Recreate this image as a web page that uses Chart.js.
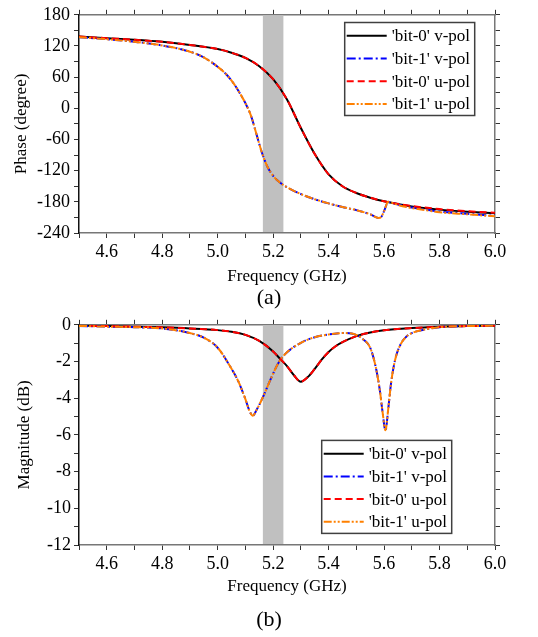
<!DOCTYPE html>
<html>
<head>
<meta charset="utf-8">
<script src="https://cdn.jsdelivr.net/npm/chart.js@4.4.0/dist/chart.umd.min.js"></script>
<style>
body { margin: 0; background: #fff; }
.box { position: relative; width: 538px; }
</style>
</head>
<body>
<div class="box" style="height:311px"><canvas id="phaseChart"></canvas></div>
<div class="box" style="height:326px"><canvas id="magChart"></canvas></div>
<script>
// series names and band
const seriesNames = ["'bit-0' v-pol", "'bit-1' v-pol", "'bit-0' u-pol", "'bit-1' u-pol"];
const bandGHz = [5.163, 5.237];

// (a) phase, degrees
const freqPhase0 = [4.5,4.6,4.7,4.8,4.9,5.0,5.05,5.1,5.15,5.2,5.25,5.3,5.35,5.4,5.45,5.5,5.55,5.6,5.7,5.8,5.9,6.0];
const phase0v = [138,135,132,128,122,114,107,97,81,56,17,-38,-88,-127,-150,-163,-172,-179,-189,-195,-199,-202];
const phase0u = [138,135,132,128,122,114,107,97,81,56,17,-38,-88,-127,-150,-163,-172,-179,-188,-194,-198,-201];

const freqPhase1 = [4.5,4.6,4.7,4.8,4.9,4.95,5.0,5.03,5.06,5.08,5.1,5.12,5.14,5.16,5.18,5.2,5.22,5.25,5.3,5.35,5.4,5.45,5.5,5.55,5.58,5.59,5.6,5.615,5.63,5.65,5.7,5.75,5.8,5.9,6.0];
const phase1v = [137,133,128,121,109,98,80,66,46,29,10,-14,-50,-86,-113,-130,-141,-152,-165,-175,-183,-190,-196,-204,-211,-209,-198,-180,-182,-185,-191,-195,-199,-203,-207];
const phase1u = [137,133,128,121,109,98,80,66,46,29,10,-14,-50,-86,-113,-130,-141,-152,-165,-175,-183,-190,-196,-204,-211,-209,-198,-180,-182,-186,-192,-196,-200,-204,-208];

// (b) magnitude, dB
const freqMag0 = [4.5,4.6,4.7,4.8,4.9,5.0,5.05,5.1,5.15,5.2,5.225,5.25,5.275,5.3,5.325,5.35,5.375,5.4,5.425,5.45,5.5,5.55,5.6,5.7,5.8,5.9,6.0];
const mag0v = [-0.05,-0.07,-0.1,-0.14,-0.2,-0.29,-0.38,-0.55,-0.88,-1.45,-1.85,-2.25,-2.75,-3.1,-2.85,-2.4,-1.9,-1.48,-1.17,-0.95,-0.62,-0.42,-0.3,-0.18,-0.11,-0.07,-0.05];
const mag0u = [-0.05,-0.07,-0.1,-0.14,-0.2,-0.29,-0.38,-0.55,-0.88,-1.45,-1.85,-2.25,-2.75,-3.1,-2.85,-2.4,-1.9,-1.48,-1.17,-0.95,-0.62,-0.42,-0.3,-0.18,-0.11,-0.07,-0.05];

const freqMag1 = [4.5,4.6,4.7,4.8,4.9,4.95,5.0,5.05,5.075,5.1,5.115,5.127,5.14,5.163,5.19,5.22,5.25,5.3,5.35,5.4,5.45,5.5,5.525,5.55,5.57,5.585,5.595,5.605,5.615,5.625,5.64,5.66,5.68,5.7,5.75,5.8,5.9,6.0];
const mag1v = [-0.06,-0.1,-0.13,-0.2,-0.45,-0.7,-1.25,-2.4,-3.1,-4.05,-4.7,-4.95,-4.65,-3.95,-3.0,-2.05,-1.5,-0.98,-0.68,-0.53,-0.45,-0.55,-0.8,-1.25,-2.3,-3.6,-4.8,-5.75,-4.6,-3.2,-1.9,-1.05,-0.65,-0.45,-0.25,-0.13,-0.07,-0.05];
const mag1u = [-0.06,-0.1,-0.13,-0.2,-0.45,-0.7,-1.25,-2.4,-3.1,-4.05,-4.7,-4.95,-4.65,-3.95,-3.0,-2.05,-1.5,-0.98,-0.68,-0.53,-0.45,-0.55,-0.8,-1.25,-2.3,-3.6,-4.8,-5.75,-4.6,-3.2,-1.9,-1.05,-0.65,-0.45,-0.25,-0.13,-0.07,-0.05];

const FONT = "'Liberation Serif', 'Times New Roman', serif";
const lineColors = ['#000000', '#0000ff', '#ff0000', '#ff8000'];
const lineDashes = [[], [9, 3, 2, 3], [7, 4], [8, 2, 2, 2, 2, 2]];
const drawOrder = [4, 3, 2, 1];

function pts(xs, ys) {
    return xs.map((x, i) => ({ x: x, y: ys[i] }));
}

function makeDatasets(series) {
    return series.map((s, i) => ({
        label: seriesNames[i],
        data: pts(s[0], s[1]),
        borderColor: lineColors[i],
        borderDash: lineDashes[i],
        borderWidth: 2,
        pointRadius: 0,
        fill: false,
        cubicInterpolationMode: 'monotone',
        order: drawOrder[i]
    }));
}

// grey band behind the curves
const bandPlugin = {
    id: 'band',
    beforeDatasetsDraw(chart) {
        const ctx = chart.ctx, a = chart.chartArea, xs = chart.scales.x;
        const x1 = xs.getPixelForValue(bandGHz[0]);
        const x2 = xs.getPixelForValue(bandGHz[1]);
        ctx.save();
        ctx.fillStyle = '#c0c0c0';
        ctx.fillRect(x1, a.top + 1, x2 - x1, a.bottom - a.top - 2);
        ctx.restore();
    }
};

// boxed legend inside the plot
const boxLegend = {
    id: 'boxLegend',
    afterDraw(chart, args, opts) {
        const ctx = chart.ctx, a = chart.chartArea;
        const left = a.left + opts.dx, top = a.top + opts.dy;
        const w = 130, h = 93, rowH = 22.7;
        ctx.save();
        ctx.fillStyle = '#fff';
        ctx.fillRect(left, top, w, h);
        ctx.strokeStyle = '#404040';
        ctx.lineWidth = 1.5;
        ctx.strokeRect(left, top, w, h);
        chart.data.datasets.forEach((ds, i) => {
            const y = top + 13.3 + i * rowH;
            ctx.beginPath();
            ctx.setLineDash(ds.borderDash);
            ctx.strokeStyle = ds.borderColor;
            ctx.lineWidth = 2;
            ctx.moveTo(left + 2, y);
            ctx.lineTo(left + 42, y);
            ctx.stroke();
            ctx.setLineDash([]);
            ctx.fillStyle = '#000';
            ctx.font = '17px ' + FONT;
            ctx.textBaseline = 'middle';
            ctx.fillText(ds.label, left + 47, y + 1);
        });
        ctx.restore();
    }
};

function makeScales(c) {
    return {
        x: {
            type: 'linear', position: 'bottom', min: 4.5, max: 6.0,
            ticks: { stepSize: 0.1, autoSkip: false, maxRotation: 0, padding: 3, color: '#000',
                font: { family: FONT, size: 18 },
                callback: v => Math.round(v * 10) % 2 === 0 ? v.toFixed(1) : '' },
            grid: { drawOnChartArea: false, tickLength: 5, tickColor: '#333' },
            border: { color: '#777', width: 1.5 },
            title: { display: true, text: 'Frequency (GHz)', color: '#000',
                font: { family: FONT, size: 17, lineHeight: 1 }, padding: { top: 0, bottom: c.xTitlePad } },
            afterFit: s => { s.height = c.xHeight; }
        },
        xTop: {
            type: 'linear', position: 'top', min: 4.5, max: 6.0,
            ticks: { stepSize: 0.1, display: false },
            grid: { drawOnChartArea: false, tickLength: 5, tickColor: '#333' },
            border: { color: '#777', width: 1.5 },
            afterFit: s => { s.height = c.top; }
        },
        y: {
            type: 'linear', position: 'left', min: c.yMin, max: c.yMax,
            ticks: { stepSize: c.yStep, autoSkip: false, padding: c.yPad, color: '#000',
                font: { family: FONT, size: 18 },
                callback: v => v % c.yLabel === 0 ? String(v) : '' },
            grid: { drawOnChartArea: false, tickLength: 5, tickColor: '#333' },
            border: { color: '#111', width: 1.5 },
            title: { display: true, text: c.yTitle, color: '#000',
                font: { family: FONT, size: 17, lineHeight: 1 }, padding: { top: c.yTitlePad, bottom: 0 } },
            afterFit: s => { s.width = 79; }
        },
        yRight: {
            type: 'linear', position: 'right', min: c.yMin, max: c.yMax,
            ticks: { stepSize: c.yStep, display: false },
            grid: { drawOnChartArea: false, tickLength: 5, tickColor: '#333' },
            border: { color: '#777', width: 1.5 },
            afterFit: s => { s.width = 43; }
        }
    };
}

function makeChart(id, series, c) {
    return new Chart(document.getElementById(id), {
        type: 'line',
        data: { datasets: makeDatasets(series) },
        options: {
            responsive: true,
            maintainAspectRatio: false,
            animation: false,
            layout: { padding: 0 },
            scales: makeScales(c),
            plugins: {
                legend: { display: false },
                tooltip: { enabled: false },
                title: { display: true, text: c.caption, position: 'bottom', color: '#000',
                    font: { family: FONT, size: 22, weight: 'normal' },
                    padding: { top: 0, bottom: c.capPad } },
                boxLegend: { dx: c.legDx, dy: c.legDy }
            }
        },
        plugins: [bandPlugin, boxLegend]
    });
}

makeChart('phaseChart',
    [[freqPhase0, phase0v], [freqPhase1, phase1v], [freqPhase0, phase0u], [freqPhase1, phase1u]],
    { yMin: -240, yMax: 180, yStep: 30, yLabel: 60, yTitle: 'Phase (degree)', yPad: 4, yTitlePad: 13,
      top: 10, xHeight: 51.6, xTitlePad: 0, caption: '(a)', capPad: 0, legDx: 265.7, legDy: 7.7 });

makeChart('magChart',
    [[freqMag0, mag0v], [freqMag1, mag1v], [freqMag0, mag0u], [freqMag1, mag1u]],
    { yMin: -12, yMax: 0, yStep: 1, yLabel: 2, yTitle: 'Magnitude (dB)', yPad: 3, yTitlePad: 16,
      top: 10.7, xHeight: 61.8, xTitlePad: 11.6, caption: '(b)', capPad: 3.8, legDx: 242.7, legDy: 115.6 });
</script>
</body>
</html>
